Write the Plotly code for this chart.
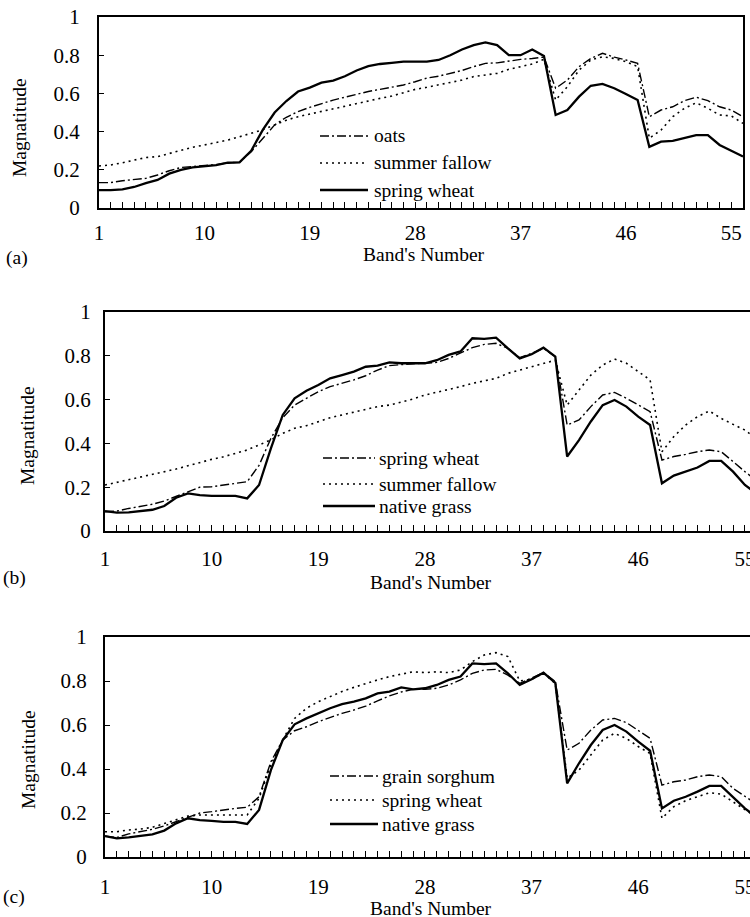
import plotly.graph_objects as go

# ---------------- data ----------------
bands = list(range(1, 57))
band_labels = ["1", "10", "19", "28", "37", "46", "55"]
y_ticks = [0, 0.2, 0.4, 0.6, 0.8, 1.0]
y_tick_labels = ["0", "0.2", "0.4", "0.6", "0.8", "1"]

# panel (a)
oats_a = [0.133, 0.133, 0.143, 0.150, 0.155, 0.173, 0.195, 0.212, 0.216, 0.222,
          0.227, 0.237, 0.240, 0.295, 0.365, 0.435, 0.475, 0.505, 0.527, 0.548,
          0.565, 0.580, 0.597, 0.610, 0.621, 0.632, 0.644, 0.661, 0.680, 0.690,
          0.705, 0.720, 0.740, 0.757, 0.760, 0.770, 0.778, 0.783, 0.790, 0.627,
          0.670, 0.740, 0.783, 0.810, 0.790, 0.775, 0.757, 0.478, 0.513, 0.530,
          0.562, 0.580, 0.562, 0.530, 0.513, 0.478]
summer_fallow_a = [0.220, 0.225, 0.237, 0.250, 0.264, 0.269, 0.286, 0.304, 0.318, 0.330,
                   0.342, 0.356, 0.373, 0.390, 0.410, 0.435, 0.460, 0.478, 0.492, 0.508,
                   0.520, 0.535, 0.548, 0.562, 0.574, 0.586, 0.604, 0.621, 0.632, 0.644,
                   0.656, 0.670, 0.688, 0.696, 0.705, 0.726, 0.740, 0.754, 0.778, 0.565,
                   0.635, 0.722, 0.775, 0.792, 0.783, 0.766, 0.740, 0.365, 0.408, 0.478,
                   0.522, 0.551, 0.522, 0.487, 0.482, 0.443]
spring_wheat_a = [0.094, 0.094, 0.098, 0.110, 0.130, 0.147, 0.180, 0.200, 0.213, 0.220,
                  0.225, 0.237, 0.239, 0.300, 0.410, 0.500, 0.560, 0.610, 0.630, 0.656,
                  0.667, 0.690, 0.720, 0.743, 0.754, 0.760, 0.766, 0.766, 0.766, 0.775,
                  0.800, 0.830, 0.853, 0.867, 0.853, 0.800, 0.800, 0.830, 0.796, 0.487,
                  0.513, 0.583, 0.640, 0.650, 0.627, 0.597, 0.565, 0.320, 0.347, 0.351,
                  0.365, 0.382, 0.382, 0.330, 0.300, 0.270]

# panel (b)
spring_wheat_b = [0.088, 0.091, 0.103, 0.111, 0.122, 0.137, 0.157, 0.177, 0.200, 0.202,
                  0.210, 0.218, 0.225, 0.300, 0.423, 0.517, 0.575, 0.606, 0.636, 0.659,
                  0.674, 0.690, 0.709, 0.735, 0.755, 0.761, 0.764, 0.766, 0.770, 0.788,
                  0.811, 0.837, 0.852, 0.857, 0.834, 0.791, 0.811, 0.834, 0.796, 0.484,
                  0.507, 0.568, 0.621, 0.633, 0.606, 0.575, 0.545, 0.324, 0.340, 0.350,
                  0.362, 0.370, 0.362, 0.317, 0.271, 0.230]
summer_fallow_b = [0.210, 0.222, 0.233, 0.244, 0.256, 0.268, 0.283, 0.298, 0.314, 0.327,
                   0.339, 0.355, 0.370, 0.393, 0.416, 0.446, 0.469, 0.481, 0.499, 0.517,
                   0.530, 0.542, 0.553, 0.568, 0.575, 0.588, 0.603, 0.621, 0.633, 0.644,
                   0.659, 0.674, 0.685, 0.697, 0.720, 0.735, 0.750, 0.766, 0.780, 0.575,
                   0.644, 0.712, 0.758, 0.785, 0.766, 0.728, 0.690, 0.362, 0.431, 0.484,
                   0.522, 0.548, 0.514, 0.487, 0.461, 0.420]
native_grass_b = [0.091, 0.084, 0.085, 0.091, 0.097, 0.114, 0.152, 0.172, 0.164, 0.160,
                  0.160, 0.160, 0.149, 0.210, 0.377, 0.530, 0.606, 0.640, 0.667, 0.697,
                  0.712, 0.728, 0.750, 0.755, 0.770, 0.766, 0.766, 0.766, 0.780, 0.804,
                  0.820, 0.880, 0.877, 0.883, 0.834, 0.788, 0.807, 0.837, 0.796, 0.340,
                  0.415, 0.500, 0.575, 0.598, 0.568, 0.522, 0.484, 0.218, 0.253, 0.271,
                  0.290, 0.320, 0.320, 0.271, 0.210, 0.170]

# panel (c)
grain_sorghum_c = [0.095, 0.089, 0.105, 0.115, 0.126, 0.141, 0.161, 0.183, 0.200, 0.206,
                   0.214, 0.221, 0.226, 0.274, 0.433, 0.532, 0.574, 0.592, 0.615, 0.635,
                   0.653, 0.668, 0.686, 0.710, 0.732, 0.750, 0.762, 0.762, 0.767, 0.782,
                   0.805, 0.835, 0.850, 0.853, 0.827, 0.789, 0.812, 0.838, 0.797, 0.486,
                   0.517, 0.577, 0.623, 0.630, 0.611, 0.577, 0.539, 0.327, 0.342, 0.350,
                   0.365, 0.373, 0.365, 0.312, 0.274, 0.240]
spring_wheat_c = [0.115, 0.115, 0.123, 0.127, 0.135, 0.153, 0.171, 0.186, 0.191, 0.191,
                  0.191, 0.191, 0.191, 0.267, 0.418, 0.532, 0.630, 0.676, 0.706, 0.729,
                  0.752, 0.771, 0.789, 0.805, 0.820, 0.832, 0.842, 0.838, 0.842, 0.838,
                  0.850, 0.888, 0.918, 0.929, 0.911, 0.800, 0.808, 0.835, 0.789, 0.358,
                  0.395, 0.464, 0.532, 0.562, 0.539, 0.502, 0.471, 0.176, 0.229, 0.256,
                  0.274, 0.292, 0.286, 0.252, 0.214, 0.180]
native_grass_c = [0.095, 0.085, 0.089, 0.095, 0.103, 0.120, 0.153, 0.176, 0.168, 0.164,
                  0.160, 0.160, 0.150, 0.214, 0.395, 0.532, 0.603, 0.630, 0.653, 0.676,
                  0.695, 0.706, 0.721, 0.744, 0.752, 0.771, 0.762, 0.767, 0.782, 0.805,
                  0.820, 0.880, 0.877, 0.880, 0.835, 0.782, 0.808, 0.838, 0.792, 0.335,
                  0.426, 0.509, 0.577, 0.600, 0.570, 0.524, 0.483, 0.221, 0.256, 0.274,
                  0.297, 0.323, 0.323, 0.274, 0.221, 0.180]

# ---------------- layout helpers ----------------
W, H = 750, 917
FONT = "Liberation Serif, Times New Roman, Times, DejaVu Serif, serif"
FS = 19.5      # titles / legend text
FS_TICK = 21   # tick labels


def px(x):
    return x / W


def py(y):
    return 1 - y / H


DASHDOT = "9px,3px,2px,3px"
DOT = "2px,4px"
styles = {
    "dashdot": dict(color="black", width=1.4, dash=DASHDOT),
    "dot": dict(color="black", width=1.6, dash=DOT),
    "solid": dict(color="black", width=2.3, dash="solid"),
}

panels = [
    dict(series=[("oats", oats_a, "dashdot"),
                 ("summer fallow", summer_fallow_a, "dot"),
                 ("spring wheat", spring_wheat_a, "solid")],
         xd=(99, 743), yd=(17, 208), xr=(1, 56), leg_x=(320, 368), txt_x=372,
         rows=(136, 163, 190), xstand=5, ystand=13, right=True,
         title_x=424, title_y=254, ylab=(20, 128), tag=("(a)", 17, 258)),
    dict(series=[("spring wheat", spring_wheat_b, "dashdot"),
                 ("summer fallow", summer_fallow_b, "dot"),
                 ("native grass", native_grass_b, "solid")],
         xd=(105, 750), yd=(312, 531), xr=(1, 1 + 645 / 11.85), leg_x=(323, 375), txt_x=377,
         rows=(458, 484, 506), xstand=8, ystand=8, right=False,
         title_x=431, title_y=582, ylab=(27, 435), tag=("(b)", 14, 578)),
    dict(series=[("grain sorghum", grain_sorghum_c, "dashdot"),
                 ("spring wheat", spring_wheat_c, "dot"),
                 ("native grass", native_grass_c, "solid")],
         xd=(105, 750), yd=(637, 857), xr=(1, 1 + 645 / 11.85), leg_x=(330, 378), txt_x=380,
         rows=(776, 800, 824), xstand=10, ystand=12, right=False,
         title_x=431, title_y=908, ylab=(28, 760), tag=("(c)", 14, 897)),
]

fig = go.Figure()
shapes = []
annotations = []
x_ticktext = [str(b) if str(b) in band_labels else "" for b in bands]

for i, p in enumerate(panels):
    n = "" if i == 0 else str(i + 1)
    for name, vals, st in p["series"]:
        fig.add_trace(go.Scatter(x=bands, y=vals, mode="lines", name=name,
                                 line=styles[st], showlegend=False,
                                 xaxis="x" + n, yaxis="y" + n))
    fig.layout["xaxis" + n] = dict(
        domain=[px(p["xd"][0]), px(p["xd"][1])], range=list(p["xr"]),
        anchor="y" + n, tickmode="array", tickvals=bands, ticktext=x_ticktext,
        ticks="inside", ticklen=6, tickwidth=1.3, tickcolor="black",
        showline=True, linecolor="black", linewidth=2, mirror=True,
        showgrid=False, zeroline=False, ticklabelstandoff=p["xstand"],
        automargin=False, ticklabeloverflow="allow",
        tickfont=dict(family=FONT, size=FS_TICK, color="black"))
    fig.layout["yaxis" + n] = dict(
        domain=[py(p["yd"][1]), py(p["yd"][0])], range=[0, 1], anchor="x" + n,
        tickmode="array", tickvals=y_ticks, ticktext=y_tick_labels,
        ticks="inside", ticklen=5, tickwidth=1.3, tickcolor="black",
        showline=True, linecolor="black", linewidth=2, mirror=p["right"],
        showgrid=False, zeroline=False, ticklabelstandoff=p["ystand"],
        automargin=False, ticklabeloverflow="allow",
        tickfont=dict(family=FONT, size=FS_TICK, color="black"))

    for (name, vals, st), ry in zip(p["series"], p["rows"]):
        shapes.append(dict(type="line", xref="paper", yref="paper",
                           x0=px(p["leg_x"][0]), x1=px(p["leg_x"][1]),
                           y0=py(ry), y1=py(ry), line=styles[st]))
        annotations.append(dict(text=name, xref="paper", yref="paper",
                                x=px(p["txt_x"]), y=py(ry), xanchor="left",
                                yanchor="middle", showarrow=False,
                                font=dict(family=FONT, size=FS, color="black")))
    annotations.append(dict(text="Band's Number", xref="paper", yref="paper",
                            x=px(p["title_x"]), y=py(p["title_y"]), xanchor="center",
                            yanchor="middle", showarrow=False,
                            font=dict(family=FONT, size=FS, color="black")))
    annotations.append(dict(text="Magnatitude", xref="paper", yref="paper",
                            x=px(p["ylab"][0]), y=py(p["ylab"][1]), xanchor="center",
                            yanchor="middle", textangle=-90, showarrow=False,
                            font=dict(family=FONT, size=FS, color="black")))
    annotations.append(dict(text=p["tag"][0], xref="paper", yref="paper",
                            x=px(p["tag"][1]), y=py(p["tag"][2]), xanchor="center",
                            yanchor="middle", showarrow=False,
                            font=dict(family=FONT, size=FS, color="black")))

fig.update_layout(width=W, height=H, margin=dict(l=0, r=0, t=0, b=0, autoexpand=False),
                  paper_bgcolor="white", plot_bgcolor="white",
                  font=dict(family=FONT, size=FS, color="black"),
                  shapes=shapes, annotations=annotations, showlegend=False)

fig.write_html("out.html", config={"displayModeBar": False},
               post_script="document.body.style.margin='0';document.body.style.padding='0';"
                           "document.body.style.overflow='hidden';")
